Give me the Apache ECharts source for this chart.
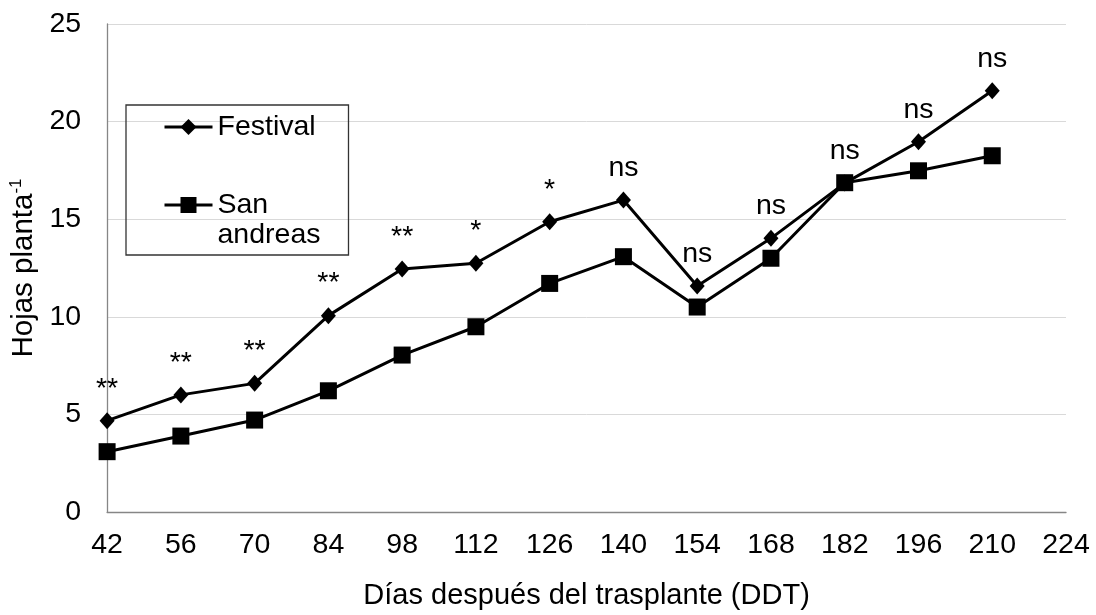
<!DOCTYPE html>
<html>
<head>
<meta charset="utf-8">
<script src="https://cdn.jsdelivr.net/npm/echarts@6/dist/echarts.min.js"></script>
<style>
html,body{margin:0;padding:0;background:#fff;}
#chart{width:1096px;height:615px;}
</style>
</head>
<body>
<div id="chart"></div>
<script>
const days = ['42','56','70','84','98','112','126','140','154','168','182','196','210','224'];
const festival = [4.68, 6.0, 6.59, 10.06, 12.45, 12.74, 14.87, 15.98, 11.58, 14.02, 16.85, 18.97, 21.58];
const sanAndreas = [3.09, 3.89, 4.71, 6.21, 8.04, 9.49, 11.71, 13.08, 10.5, 13.0, 16.87, 17.48, 18.25];
const significance = ['**','**','**','**','**','*','*','ns','ns','ns','ns','ns','ns'];
const yTicks = [0, 5, 10, 15, 20, 25];

const FONT = '"Liberation Sans", Arial, sans-serif';
const chart = echarts.init(document.getElementById('chart'), null, {renderer: 'canvas'});
chart.setOption({
  animation: false,
  backgroundColor: '#ffffff',
  textStyle: {fontFamily: FONT, color: '#000'},
  grid: {left: 105, right: 30, top: 24, bottom: 103, containLabel: false},
  legend: {
    left: 126, top: 105,
    orient: 'vertical',
    borderColor: '#333', borderWidth: 1.3,
    padding: [7, 28, 5, 37],
    itemGap: 18,
    itemWidth: 48, itemHeight: 20,
    lineStyle: {width: 3},
    textStyle: {fontFamily: FONT, fontSize: 28.5, color: '#000', lineHeight: 30},
    data: [{name: 'Festival'}, {name: 'San andreas'}],
    formatter: function (n) { return n === 'San andreas' ? '\nSan\nandreas' : n; }
  },
  xAxis: {
    type: 'category',
    data: days,
    boundaryGap: false,
    name: 'Días después del trasplante (DDT)',
    nameLocation: 'middle',
    nameGap: 69,
    nameTextStyle: {fontFamily: FONT, fontSize: 29, color: '#000'},
    axisLine: {lineStyle: {color: '#868686', width: 1.3}},
    axisTick: {show: false},
    axisLabel: {interval: 0, fontSize: 28.5, color: '#000', margin: 19, fontFamily: FONT},
    splitLine: {show: false}
  },
  yAxis: {
    type: 'value',
    min: yTicks[0], max: yTicks[yTicks.length - 1], interval: 5,
    name: '{a|Hojas planta}{s|-1}',
    nameLocation: 'middle',
    nameGap: 67,
    nameTextStyle: {
      rich: {
        a: {fontFamily: FONT, fontSize: 29.5, color: '#000'},
        s: {fontFamily: FONT, fontSize: 17, color: '#000', verticalAlign: 'top', padding: [0, 0, 14, 0]}
      }
    },
    axisLine: {show: true, lineStyle: {color: '#868686', width: 1.3}},
    axisTick: {show: false},
    axisLabel: {fontSize: 28.5, color: '#000', margin: 26, fontFamily: FONT},
    splitLine: {lineStyle: {color: '#d9d9d9', width: 1}}
  },
  series: [
    {
      name: 'Festival',
      type: 'line',
      data: festival,
      symbol: 'diamond',
      symbolSize: [15, 17],
      itemStyle: {color: '#000'},
      lineStyle: {color: '#000', width: 3},
      label: {
        show: true, position: 'top', distance: 9,
        fontSize: 28.5, color: '#000', fontFamily: FONT,
        formatter: function (p) { return significance[p.dataIndex]; }
      },
      z: 3
    },
    {
      name: 'San andreas',
      type: 'line',
      data: sanAndreas,
      symbol: 'rect',
      symbolSize: 17,
      itemStyle: {color: '#000'},
      lineStyle: {color: '#000', width: 3},
      z: 2
    }
  ]
});
</script>
</body>
</html>
